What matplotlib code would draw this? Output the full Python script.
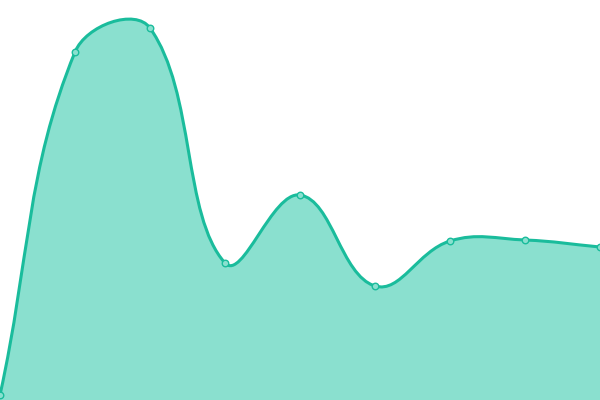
import matplotlib
matplotlib.use("Agg")
import matplotlib.pyplot as plt
import numpy as np
from matplotlib.path import Path
from matplotlib.patches import PathPatch

categories = ["A", "B", "C", "D", "E", "F", "G", "H", "I"]
values = [5, 348, 372, 137, 205, 114, 159, 160, 153]

LINE = "#1abc9c"
FILL = "#8ae0cf"

fig = plt.figure(figsize=(6, 4), dpi=100)
ax = fig.add_axes([0, 0, 1, 1])
ax.set_xlim(0, len(categories) - 1)
ax.set_ylim(0, 400)
ax.axis("off")

x = np.arange(len(categories), dtype=float)
y = np.array(values, dtype=float)

# Chart.js-like spline (tension 0.4) computed in display space
fig.canvas.draw()
pts = ax.transData.transform(np.column_stack([x, y]))
n = len(pts)
t = 0.4
cp_prev = pts.copy()
cp_next = pts.copy()
for i in range(n):
    p0 = pts[i - 1] if i > 0 else pts[i]
    p1 = pts[i]
    p2 = pts[i + 1] if i < n - 1 else pts[i]
    d01 = np.hypot(*(p1 - p0))
    d12 = np.hypot(*(p2 - p1))
    tot = d01 + d12
    s01 = d01 / tot if tot else 0
    s12 = d12 / tot if tot else 0
    cp_prev[i] = p1 - t * s01 * (p2 - p0)
    cp_next[i] = p1 + t * s12 * (p2 - p0)

inv = ax.transData.inverted()
cpp = inv.transform(cp_prev)
cpn = inv.transform(cp_next)
data_pts = np.column_stack([x, y])

verts = [data_pts[0]]
codes = [Path.MOVETO]
for i in range(n - 1):
    verts += [cpn[i], cpp[i + 1], data_pts[i + 1]]
    codes += [Path.CURVE4] * 3
line_path = Path(verts, codes)

fill_verts = verts + [(x[-1], 0), (x[0], 0), verts[0]]
fill_codes = codes + [Path.LINETO, Path.LINETO, Path.CLOSEPOLY]
ax.add_patch(PathPatch(Path(fill_verts, fill_codes), facecolor=FILL, edgecolor="none", zorder=1))
ax.add_patch(PathPatch(line_path, facecolor="none", edgecolor=LINE, linewidth=2.2, zorder=2))

ax.scatter(x, y, s=22, facecolor=FILL, edgecolor=LINE, linewidth=1.0, zorder=3, clip_on=False)

fig.savefig("out.png", dpi=100)
